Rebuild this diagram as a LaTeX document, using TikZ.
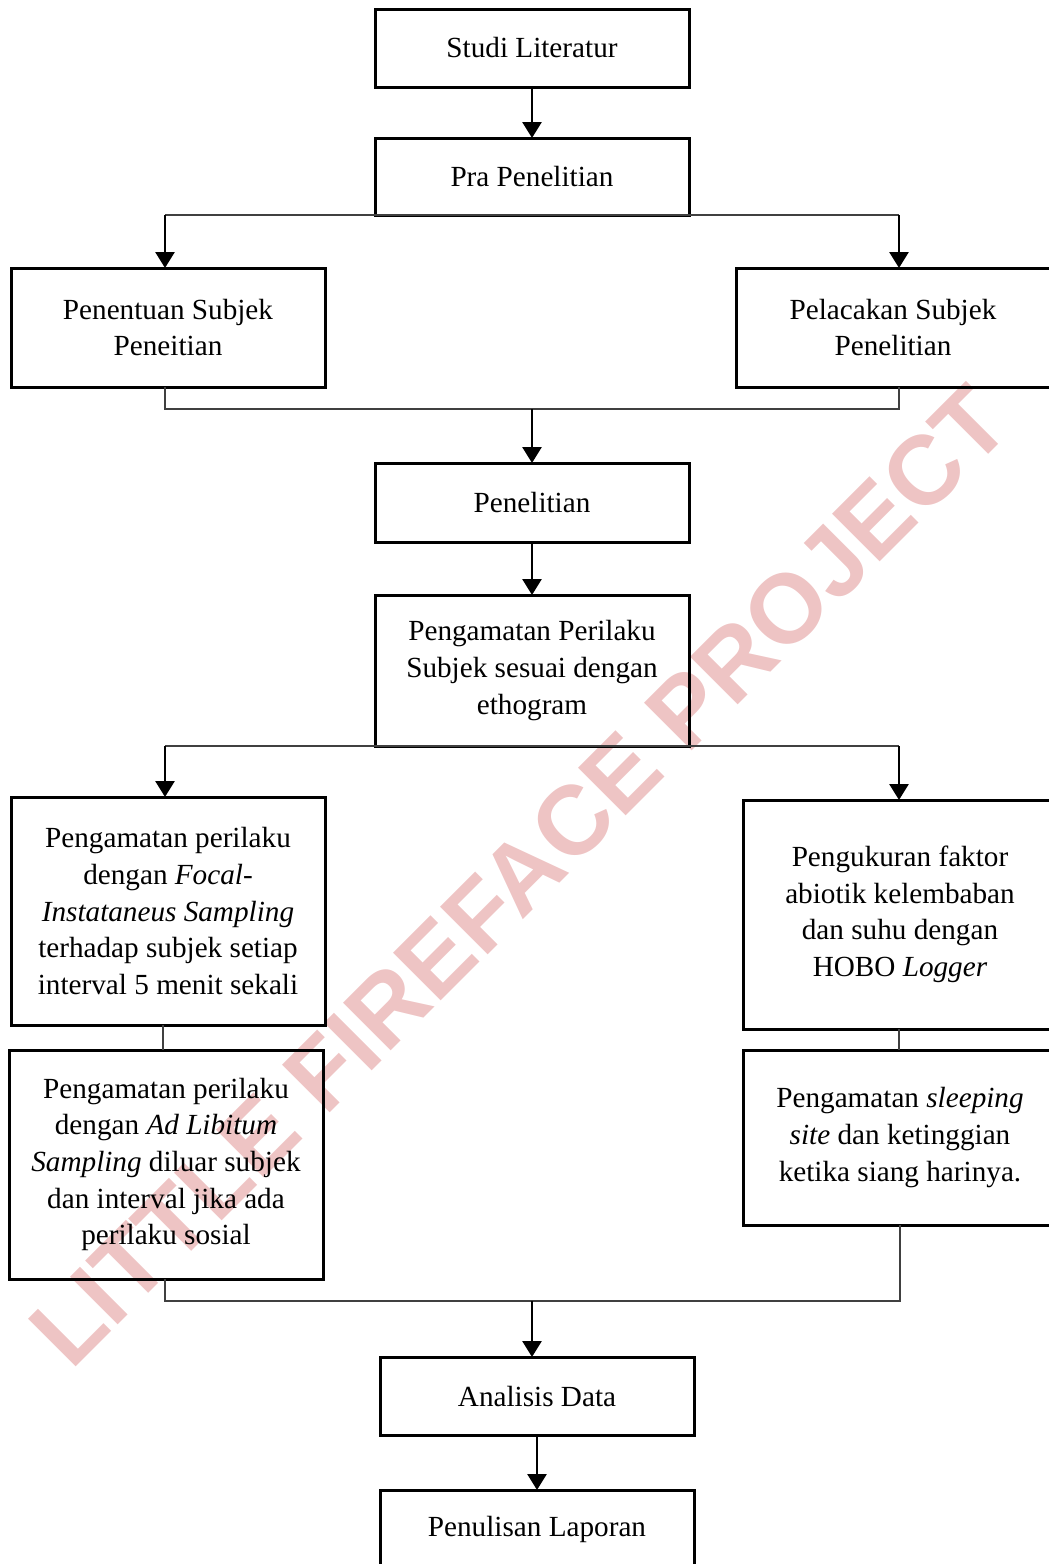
\documentclass[tikz,border=0pt]{standalone}
\usepackage{fontspec}
\setmainfont{Liberation Serif}
\newfontfamily\wmfont{Liberation Sans}
\usepackage{tikz}
\usetikzlibrary{arrows,arrows.meta,positioning}
\definecolor{wmpink}{RGB}{238,196,196}
\tikzstyle{box}=[draw, line width=1.5pt, minimum width=157pt, align=center, outer sep=0pt, inner sep=2pt, font=\fontsize{14.6pt}{18.3pt}\selectfont]
\tikzstyle{link}=[line width=1pt, black!75]
\tikzstyle{arr}=[-{Triangle[width=9.5pt,length=8pt]}, line width=1.4pt]
\tikzstyle{wmark}=[text=wmpink, rotate=45, font=\wmfont\bfseries\fontsize{49pt}{49pt}\selectfont]

\begin{document}
\begin{tikzpicture}
 [x=0.5pt, y=-0.5pt]
 \useasboundingbox (0,0) rectangle (1049,1564);
 \clip (0,0) rectangle (1049,1564);
 \node[wmark] (wm) at (519,876) {LITTLE FIREFACE PROJECT};
 % main column
 \node[box, minimum height=39pt] (studi) at (532,48) {Studi Literatur};
 \node[box, minimum height=38.5pt, below=25.5pt of studi] (pra) {Pra Penelitian};
 \node[box, minimum height=59.5pt] (penentuan) at (168,327.5) {Penentuan Subjek\\Peneitian};
 \node[box, minimum height=59.5pt] (pelacakan) at (893,327.5) {Pelacakan Subjek\\Penelitian};
 \node[box, minimum height=39.5pt] (penelitian) at (532,502.5) {Penelitian};
 \node[box, minimum height=75.5pt, below=26.5pt of penelitian] (pengamatan) {Pengamatan Perilaku\\Subjek sesuai dengan\\ethogram};
 % two branches
 \node[box, minimum height=114pt] (focal) at (168,911) {Pengamatan perilaku\\dengan \textit{Focal-}\\\textit{Instataneus Sampling}\\terhadap subjek setiap\\interval 5 menit sekali};
 \node[box, minimum height=114.5pt] (hobo) at (900,914.5) {Pengukuran faktor\\abiotik kelembaban\\dan suhu dengan\\HOBO \textit{Logger}};
 \node[box, minimum height=114.5pt] (libitum) at (166,1164.5) {Pengamatan perilaku\\dengan \textit{Ad Libitum}\\\textit{Sampling} diluar subjek\\dan interval jika ada\\perilaku sosial};
 \node[box, minimum height=87.5pt] (sleeping) at (900,1137.5) {Pengamatan \textit{sleeping}\\\textit{site} dan ketinggian\\ketika siang harinya.};
 \node[box, minimum height=39pt] (analisis) at (537,1396) {Analisis Data};
 \node[box, minimum height=39pt, below=27.5pt of analisis] (laporan) {Penulisan Laporan};
 % bus points
 \coordinate (splitA) at (165,215);
 \coordinate (splitB) at (899,215);
 \coordinate (joinA) at (165,409);
 \coordinate (joinB) at (899,409);
 \coordinate (splitC) at (165,746);
 \coordinate (splitD) at (899,746);
 \coordinate (joinC) at (165,1301);
 \coordinate (joinD) at (900,1301);
 % connectors
 \draw[arr] (studi) -- (pra);
 \draw[link] (splitA) -- (splitB);
 \draw[arr] (splitA) -- (splitA |- penentuan.north);
 \draw[arr] (splitB) -- (splitB |- pelacakan.north);
 \draw[link] (joinA |- penentuan.south) -- (joinA) -- (joinB) -- (joinB |- pelacakan.south);
 \draw[arr] (joinA -| penelitian) -- (penelitian);
 \draw[arr] (penelitian) -- (pengamatan);
 \draw[link] (splitC) -- (splitD);
 \draw[arr] (splitC) -- (splitC |- focal.north);
 \draw[arr] (splitD) -- (splitD |- hobo.north);
 \draw[link] (focal.south -| 163,0) -- (163,0 |- libitum.north);
 \draw[link] (hobo.south -| splitD) -- (splitD |- sleeping.north);
 \draw[link] (joinC |- libitum.south) -- (joinC) -- (joinD) -- (joinD |- sleeping.south);
 \draw[arr] (joinC -| pengamatan) -- (pengamatan |- analisis.north);
 \draw[arr] (analisis) -- (laporan);
\end{tikzpicture}
\end{document}
